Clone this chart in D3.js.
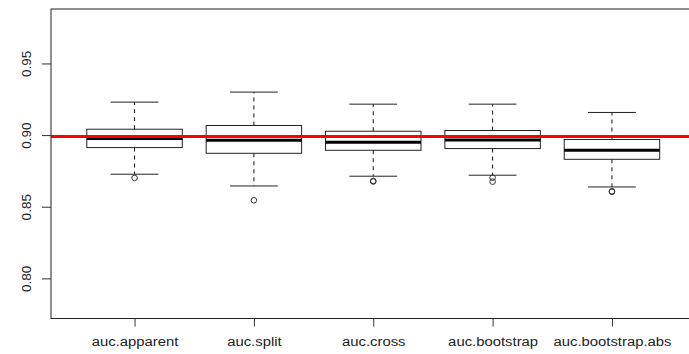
<!DOCTYPE html>
<html>
<head>
<meta charset="utf-8">
<script src="https://cdn.jsdelivr.net/npm/d3@7"></script>
<style>
  html, body { margin: 0; padding: 0; background: #fff; }
  svg { display: block; }
  text { font-family: "Liberation Sans", Arial, sans-serif; fill: #222; }
</style>
</head>
<body>
<svg id="chart" width="689" height="354"></svg>
<script>
// AUC estimates per validation method
const categories  = ["auc.apparent", "auc.split", "auc.cross", "auc.bootstrap", "auc.bootstrap.abs"];
const whiskerLow  = [0.8727, 0.8645, 0.8713, 0.8720, 0.8638];
const quartile1   = [0.8913, 0.8873, 0.8894, 0.8906, 0.8831];
const medians     = [0.8976, 0.8964, 0.8950, 0.8966, 0.8894];
const quartile3   = [0.9041, 0.9067, 0.9027, 0.9032, 0.8969];
const whiskerHigh = [0.9230, 0.9300, 0.9216, 0.9216, 0.9158];
const outliers    = [[0.8701], [0.8545], [0.8680, 0.8676], [0.8703, 0.8675], [0.8608, 0.8604]];
const referenceAuc = 0.899;
const yTicks = [0.80, 0.85, 0.90, 0.95];

const svg = d3.select("#chart");

// plot region (right edge runs past the window)
const plotLeft = 51, plotRight = 695.5, plotTop = 9, plotBottom = 318.5;

const x = d3.scaleLinear().domain([0.3, categories.length + 0.7]).range([plotLeft, plotRight]);
const y = d3.scaleLinear().domain([0.772, 0.988]).range([plotBottom, plotTop]);
const boxW = 0.8 * (x(2) - x(1));
const capW = boxW / 2;

const rows = categories.map((c, i) => ({
  name: c, pos: i + 1,
  lo: whiskerLow[i], q1: quartile1[i], med: medians[i], q3: quartile3[i], hi: whiskerHigh[i],
  out: outliers[i]
}));

const g = svg.append("g");

const box = g.selectAll("g.box").data(rows).join("g").attr("class", "box");

// dashed whiskers
box.append("line")
  .attr("x1", d => x(d.pos)).attr("x2", d => x(d.pos))
  .attr("y1", d => y(d.q3)).attr("y2", d => y(d.hi))
  .attr("stroke", "#111").attr("stroke-dasharray", "4,4");
box.append("line")
  .attr("x1", d => x(d.pos)).attr("x2", d => x(d.pos))
  .attr("y1", d => y(d.q1)).attr("y2", d => y(d.lo))
  .attr("stroke", "#111").attr("stroke-dasharray", "4,4");

// whisker caps
["lo", "hi"].forEach(k => {
  box.append("line")
    .attr("x1", d => x(d.pos) - capW / 2).attr("x2", d => x(d.pos) + capW / 2)
    .attr("y1", d => y(d[k])).attr("y2", d => y(d[k]))
    .attr("stroke", "#222");
});

// boxes
box.append("rect")
  .attr("x", d => x(d.pos) - boxW / 2).attr("width", boxW)
  .attr("y", d => y(d.q3)).attr("height", d => y(d.q1) - y(d.q3))
  .attr("fill", "#fff").attr("stroke", "#222");

// medians
box.append("line")
  .attr("x1", d => x(d.pos) - boxW / 2).attr("x2", d => x(d.pos) + boxW / 2)
  .attr("y1", d => y(d.med)).attr("y2", d => y(d.med))
  .attr("stroke", "#000").attr("stroke-width", 3);

// outliers
box.selectAll("circle").data(d => d.out.map(v => ({ pos: d.pos, v })))
  .join("circle")
  .attr("cx", d => x(d.pos)).attr("cy", d => y(d.v)).attr("r", 2.8)
  .attr("fill", "none").attr("stroke", "#333");

// reference line
g.append("line")
  .attr("x1", plotLeft).attr("x2", plotRight)
  .attr("y1", y(referenceAuc)).attr("y2", y(referenceAuc))
  .attr("stroke", "#ff0000").attr("stroke-width", 3);

// frame
svg.append("rect")
  .attr("x", plotLeft).attr("y", plotTop).attr("width", plotRight - plotLeft).attr("height", plotBottom - plotTop)
  .attr("fill", "none").attr("stroke", "#222");

// y axis
const yAxis = svg.append("g").attr("transform", `translate(${plotLeft},0)`)
  .call(d3.axisLeft(y).tickValues(yTicks).tickFormat(d3.format(".2f")).tickSize(9).tickPadding(0));
yAxis.select(".domain").remove();
yAxis.selectAll(".tick line").attr("stroke", "#333");
yAxis.selectAll(".tick text").remove();
yAxis.selectAll(".tick").append("text")
  .attr("transform", "translate(-25,0) rotate(-90)")
  .attr("text-anchor", "middle").attr("dy", "0.35em")
  .attr("font-size", 13.5)
  .text(d => d3.format(".2f")(d));

// x axis
const xAxis = svg.append("g").attr("transform", `translate(0,${plotBottom})`)
  .call(d3.axisBottom(x).tickValues(rows.map(d => d.pos)).tickSize(8).tickFormat((d, i) => categories[i]));
xAxis.select(".domain").remove();
xAxis.selectAll(".tick line").attr("stroke", "#333");
xAxis.selectAll(".tick text")
  .attr("y", 0).attr("dy", 0)
  .attr("transform", "translate(0,27.5) scale(1.1,1)")
  .attr("font-size", 13.5).attr("fill", "#222");
</script>
</body>
</html>
